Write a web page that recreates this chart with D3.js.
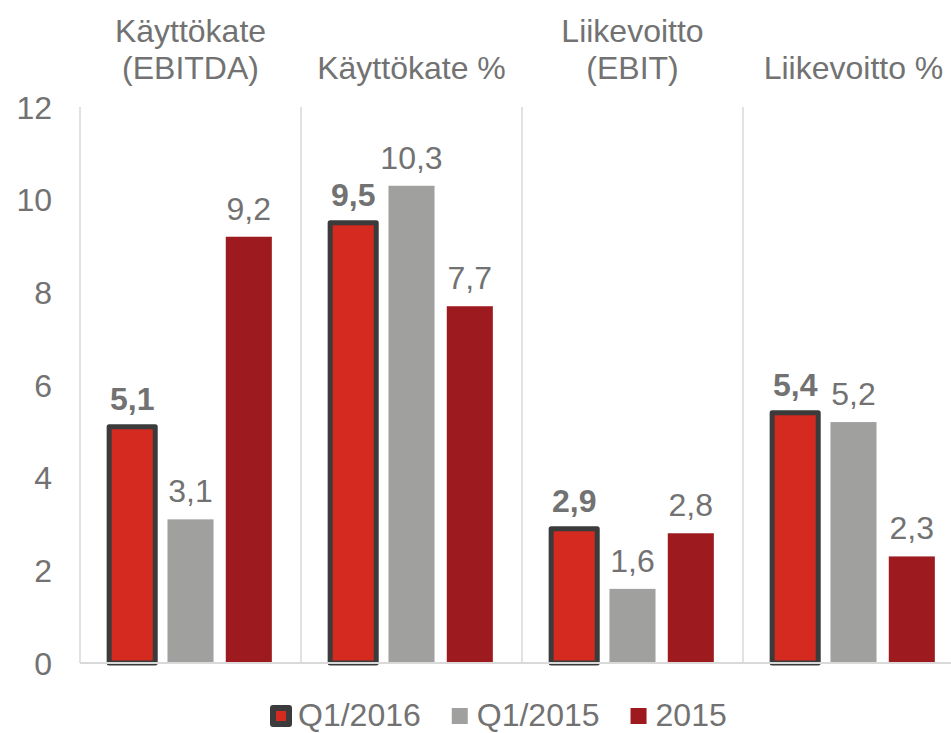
<!DOCTYPE html>
<html>
<head>
<meta charset="utf-8">
<script src="https://cdn.jsdelivr.net/npm/d3@7"></script>
<style>
    body { margin: 0; background: #fff; }
    svg text { font-family: "Liberation Sans", Arial, sans-serif; fill: #727272; }
</style>
</head>
<body>
<svg id="chart" width="951" height="733"></svg>
<script>
/*data*/
var categories = [["Käyttökate", "(EBITDA)"], ["Käyttökate %"], ["Liikevoitto", "(EBIT)"], ["Liikevoitto %"]];
var seriesNames = ["Q1/2016", "Q1/2015", "2015"];
var q1_2016 = [5.1, 9.5, 2.9, 5.4];
var q1_2015 = [3.1, 10.3, 1.6, 5.2];
var y2015 = [9.2, 7.7, 2.8, 2.3];
var yTicks = [0, 2, 4, 6, 8, 10, 12];

var colors = ["#d42a20", "#a0a19f", "#9d1a1f"];
var fontSize = 32;

var svg = d3.select("#chart");

var x0 = d3.scaleBand().domain(d3.range(categories.length)).range([80, 964]);
var x1 = d3.scaleBand().domain(d3.range(seriesNames.length))
    .range([0, x0.bandwidth()]).paddingInner(0.21).paddingOuter(0.5);
var y = d3.scaleLinear().domain([0, 12]).range([663, 107]);

var fmt = d3.formatLocale({decimal: ",", thousands: " ", grouping: [3], currency: ["", "€"]}).format(".1f");

var rows = [];
var allSeries = [q1_2016, q1_2015, y2015];
for (let s = 0; s < allSeries.length; s++) {
    for (let c = 0; c < categories.length; c++) {
        rows.push({s: s, c: c, v: allSeries[s][c]});
    }
}

// vertical separators between groups
svg.append("g")
    .selectAll("line")
    .data(d3.range(categories.length + 1))
    .enter().append("line")
      .attr("x1", function(d) { return 80 + d * x0.step() })
      .attr("x2", function(d) { return 80 + d * x0.step() })
      .attr("y1", y(12))
      .attr("y2", y(0))
      .attr("stroke", "#d9d9d9")
      .attr("stroke-width", 1.5);

// y axis labels
var yAxis = svg.append("g")
    .attr("transform", "translate(52,0)")
    .call(d3.axisLeft(y).tickValues(yTicks).tickSize(0).tickPadding(0));
yAxis.select(".domain").remove();
yAxis.selectAll("text")
    .attr("font-size", fontSize)
    .attr("font-family", null)
    .attr("dy", "0.35em");

// bars
svg.append("g")
    .selectAll("rect")
    .data(rows)
    .enter().append("rect")
      .attr("x", function(d) { return x0(d.c) + x1(d.s) })
      .attr("y", function(d) { return y(d.v) })
      .attr("width", x1.bandwidth())
      .attr("height", function(d) { return y(0) - y(d.v) })
      .attr("fill", function(d) { return colors[d.s] })
      .attr("stroke", function(d) { return d.s == 0 ? "#3b3b3b" : "none" })
      .attr("stroke-width", 5)
      .attr("stroke-linejoin", "round");

// axis line
svg.append("line")
    .attr("x1", 80).attr("x2", 951)
    .attr("y1", y(0)).attr("y2", y(0))
    .attr("stroke", "#d9d9d9")
    .attr("stroke-width", 2);

// value labels
svg.append("g")
    .selectAll("text")
    .data(rows)
    .enter().append("text")
      .attr("x", function(d) { return x0(d.c) + x1(d.s) + x1.bandwidth() / 2 })
      .attr("y", function(d) { return y(d.v) - 17 })
      .attr("text-anchor", "middle")
      .attr("font-size", fontSize)
      .attr("font-weight", function(d) { return d.s == 0 ? "bold" : "normal" })
      .text(function(d) { return fmt(d.v) });

// category labels on top
svg.append("g")
    .selectAll("text")
    .data(categories)
    .enter().append("text")
      .attr("x", function(d, i) { return x0(i) + x0.bandwidth() / 2 })
      .attr("y", function(d) { return 79 - (d.length - 1) * 37 })
      .attr("text-anchor", "middle")
      .attr("font-size", fontSize)
      .selectAll("tspan")
      .data(function(d) { return d })
      .enter().append("tspan")
        .attr("x", function() { return this.parentNode.getAttribute("x") })
        .attr("dy", function(d, i) { return i == 0 ? 0 : 37 })
        .text(function(d) { return d });

// legend (a bit higher so the text fits in the window)
var legend = svg.append("g");
var lx = 273;
seriesNames.forEach(function(name, i) {
    legend.append("rect")
        .attr("x", lx).attr("y", 708)
        .attr("width", 16).attr("height", 16)
        .attr("fill", colors[i])
        .attr("stroke", i == 0 ? "#3b3b3b" : "none")
        .attr("stroke-width", 6)
        .attr("stroke-linejoin", "round");
    var t = legend.append("text")
        .attr("x", lx + 25)
        .attr("y", 726)
        .attr("font-size", fontSize)
        .text(name);
    lx = lx + 25 + t.node().getComputedTextLength() + 31;
});
</script>
</body>
</html>
